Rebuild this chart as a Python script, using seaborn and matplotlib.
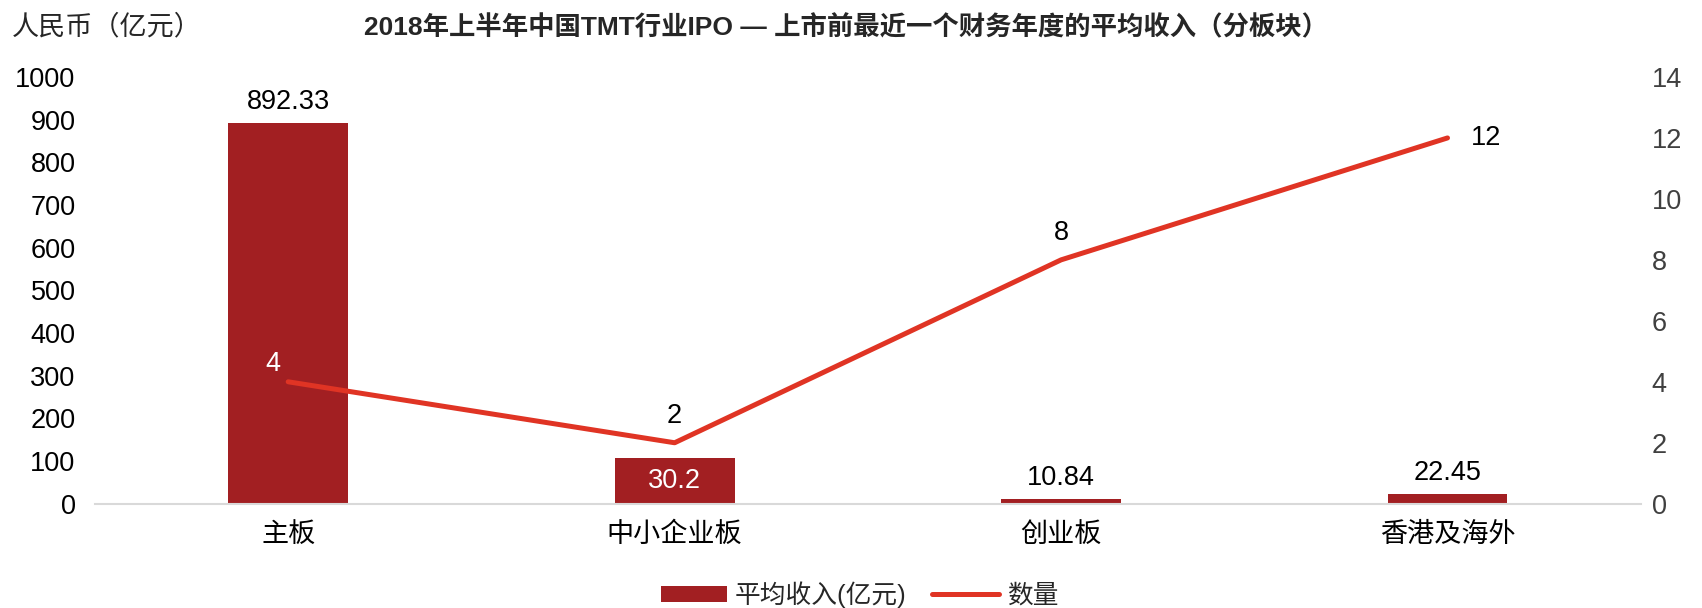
import matplotlib
matplotlib.use("Agg")
import matplotlib.pyplot as plt
import seaborn as sns
import pandas as pd
from matplotlib.patches import Patch
from matplotlib.lines import Line2D

categories = ["主板", "中小企业板", "创业板", "香港及海外"]
revenue_bar_heights = [892.33, 107.0, 10.84, 22.45]
revenue_labels = ["892.33", "30.2", "10.84", "22.45"]
counts = [4, 2, 8, 12]
left_ticks = [0, 100, 200, 300, 400, 500, 600, 700, 800, 900, 1000]
right_ticks = [0, 2, 4, 6, 8, 10, 12, 14]

title = "2018年上半年中国TMT行业IPO — 上市前最近一个财务年度的平均收入（分板块）"
ylabel = "人民币（亿元）"
legend_bar = "平均收入(亿元)"
legend_line = "数量"

sns.set_theme(style="white")
plt.rcParams["font.family"] = ["Liberation Sans", "Noto Sans CJK SC", "DejaVu Sans"]

bar_color = "#A21F22"
line_color = "#E03424"
FS = 19.5

df = pd.DataFrame({"cat": categories, "rev": revenue_bar_heights, "cnt": counts})

fig = plt.figure(figsize=(17.02, 6.08), dpi=100)
ax = fig.add_axes([0.0558, 0.1715, 0.9082, 0.7019])
sns.barplot(data=df, x="cat", y="rev", color=bar_color, width=0.31, ax=ax,
            saturation=1, edgecolor="none")
ax.set_ylim(0, 1000)
ax.set_xlim(-0.5, 3.5)
ax.set_yticks(left_ticks)
ax.set_yticklabels([str(t) for t in left_ticks], fontsize=FS, color="black")
ax.tick_params(axis="y", length=0, pad=14)
ax.tick_params(axis="x", length=0, pad=13, labelsize=FS, labelcolor="black")
ax.set_xlabel("")
ax.set_ylabel("")
for s in ["top", "right", "left"]:
    ax.spines[s].set_visible(False)
ax.spines["bottom"].set_color("#D9D9D9")
ax.spines["bottom"].set_linewidth(1.5)

for i, (h, lab) in enumerate(zip(revenue_bar_heights, revenue_labels)):
    if i == 1:
        ax.text(i, h / 2, lab, ha="center", va="center", fontsize=FS, color="white")
    else:
        ax.text(i, h + 18, lab, ha="center", va="bottom", fontsize=FS, color="black")

ax2 = ax.twinx()
sns.lineplot(x=list(range(len(categories))), y=counts, ax=ax2, color=line_color,
             linewidth=3.6, solid_capstyle="round")
ax2.set_ylim(0, 14)
ax2.set_yticks(right_ticks)
ax2.set_yticklabels([str(t) for t in right_ticks], fontsize=FS, color="#404040")
ax2.tick_params(axis="y", length=0, pad=8)
for s in ["top", "right", "left", "bottom"]:
    ax2.spines[s].set_visible(False)
ax2.set_ylabel("")

label_offsets = [(-0.04, 0.15, "white"), (0, 0.45, "black"), (0, 0.45, "black"), (0.1, -0.1, "black")]
for i, c in enumerate(counts):
    dx, dy, col = label_offsets[i]
    if i == 3:
        ax2.text(i + dx, c, str(c), ha="center", va="center", fontsize=FS, color=col)
    else:
        ax2.text(i + dx, c + dy, str(c), ha="center", va="bottom", fontsize=FS, color=col)

fig.text(0.497, 0.955, title, ha="center", va="center", fontsize=19, fontweight="bold")
fig.text(0.007, 0.955, ylabel, ha="left", va="center", fontsize=19.5)

handles = [Patch(facecolor=bar_color, edgecolor="none"),
           Line2D([0], [0], color=line_color, linewidth=3.6, solid_capstyle="round")]
fig.legend(handles, [legend_bar, legend_line], loc="center", bbox_to_anchor=(0.505, 0.022),
           ncol=2, frameon=False, fontsize=18.5, handlelength=2.6, handleheight=0.6,
           columnspacing=1.0, handletextpad=0.3)

fig.savefig("out.png", dpi=100)
